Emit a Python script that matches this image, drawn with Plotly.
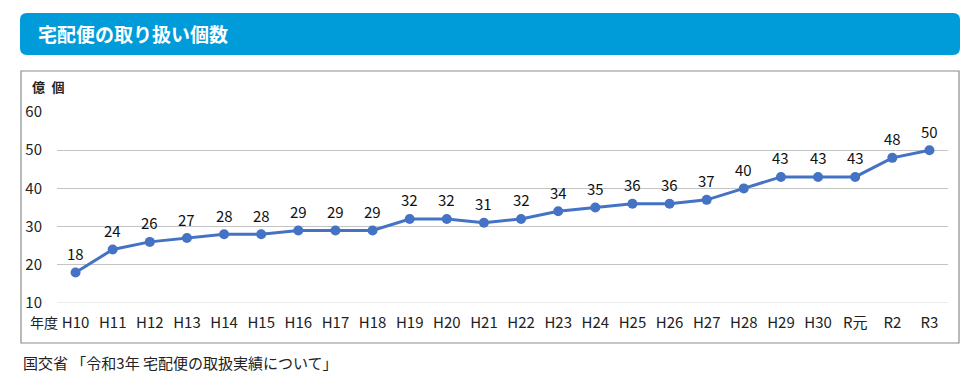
import plotly.graph_objects as go

categories = ["H10", "H11", "H12", "H13", "H14", "H15", "H16", "H17", "H18", "H19", "H20",
              "H21", "H22", "H23", "H24", "H25", "H26", "H27", "H28", "H29", "H30",
              "R元", "R2", "R3"]
values = [18, 24, 26, 27, 28, 28, 29, 29, 29, 32, 32, 31, 32, 34, 35, 36, 36, 37, 40, 43, 43, 43, 48, 50]
y_ticks = [10, 20, 30, 40, 50, 60]

title_text = "宅配便の取り扱い個数"
unit_text = "億\u2002個"
xaxis_prefix = "年度"
source_text = "国交省 「令和3年 宅配便の取扱実績について」"

FONT = "Noto Sans CJK JP"
OFF = 8  # page body margin
W, H = 980 - OFF, 381 - OFF
L, R, T, B = 49, 32, 104, 78


def px(x):
    return (x - OFF - L) / (W - L - R)


def py(y):
    return (H - B - (y - OFF)) / (H - T - B)


fig = go.Figure()
fig.add_trace(go.Scatter(
    x=categories, y=values, mode="lines+markers",
    line=dict(color="#4472C4", width=3),
    marker=dict(color="#4472C4", size=10),
    cliponaxis=False, hoverinfo="x+y",
))

# header bar with rounded corners
x0, x1, y0, y1, r = 20, 960, 13, 55, 7
rx = r / (W - L - R)
ry = r / (H - T - B)
X0, X1, Y0, Y1 = px(x0), px(x1), py(y0), py(y1)
path = (f"M {X0 + rx},{Y0} L {X1 - rx},{Y0} "
        f"Q {X1},{Y0} {X1},{Y0 - ry} L {X1},{Y1 + ry} "
        f"Q {X1},{Y1} {X1 - rx},{Y1} L {X0 + rx},{Y1} "
        f"Q {X0},{Y1} {X0},{Y1 + ry} L {X0},{Y0 - ry} "
        f"Q {X0},{Y0} {X0 + rx},{Y0} Z")

shapes = [
    dict(type="path", xref="paper", yref="paper", path=path,
         fillcolor="#009CDA", line=dict(width=0), layer="below"),
    dict(type="rect", xref="paper", yref="paper",
         x0=px(21), x1=px(959), y0=py(343), y1=py(71),
         line=dict(color="#8c8c8c", width=1.2), fillcolor="rgba(0,0,0,0)", layer="below"),
    dict(type="line", xref="paper", yref="y", x0=0, x1=1, y0=y_ticks[0], y1=y_ticks[0],
         line=dict(color="#e4e4e4", width=1.5), layer="above"),
]

annotations = [
    dict(text=f"<b>{title_text}</b>", x=px(36), y=py(34), xref="paper", yref="paper",
         xanchor="left", yanchor="middle", showarrow=False,
         font=dict(family=FONT, size=19, color="white")),
    dict(text=f"<b>{unit_text}</b>", x=px(30), y=py(86), xref="paper", yref="paper",
         xanchor="left", yanchor="middle", showarrow=False,
         font=dict(family=FONT, size=13, color="#222222")),
    dict(text=xaxis_prefix, x=px(28), y=py(322), xref="paper", yref="paper",
         xanchor="left", yanchor="middle", showarrow=False,
         font=dict(family=FONT, size=14, color="#222222")),
    dict(text=source_text, x=px(21), y=py(362), xref="paper", yref="paper",
         xanchor="left", yanchor="middle", showarrow=False,
         font=dict(family=FONT, size=15, color="#222222")),
]
for c, v in zip(categories, values):
    annotations.append(dict(
        text=str(v), x=c, y=v, xref="x", yref="y", showarrow=False,
        yshift=19, xanchor="center", yanchor="middle",
        font=dict(family=FONT, size=15, color="#111111")))

fig.update_layout(
    width=W, height=H,
    margin=dict(l=L, r=R, t=T, b=B),
    paper_bgcolor="white", plot_bgcolor="white",
    showlegend=False,
    font=dict(family=FONT, size=14, color="#222222"),
    shapes=shapes, annotations=annotations,
    xaxis=dict(type="category", range=[-0.5, len(categories) - 0.5],
               showgrid=False, showline=False, zeroline=False,
               ticks="outside", ticklen=6, tickcolor="rgba(0,0,0,0)",
               tickfont=dict(family=FONT, size=15, color="#222222")),
    yaxis=dict(range=[10, 60], tickvals=y_ticks, showgrid=True, gridcolor="#c4c4c4",
               gridwidth=1, zeroline=False, showline=False,
               ticks="outside", ticklen=11, tickcolor="rgba(0,0,0,0)",
               tickfont=dict(family=FONT, size=15, color="#222222")),
)

fig.write_html("out.html")
